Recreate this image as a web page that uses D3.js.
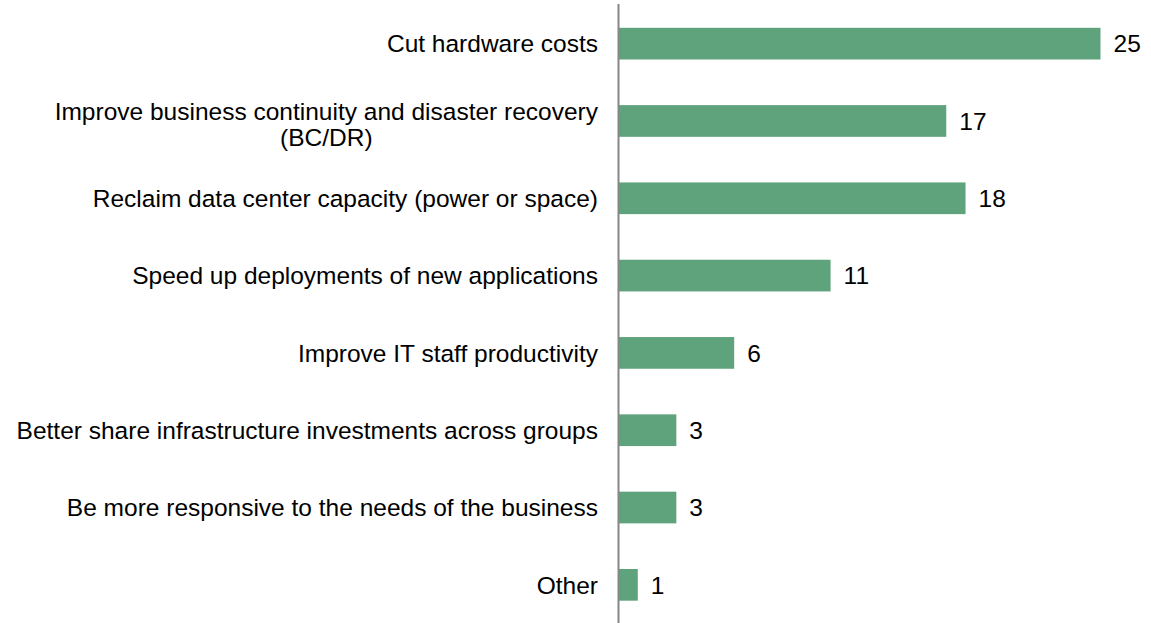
<!DOCTYPE html>
<html><head><meta charset="utf-8">
<script src="https://cdn.jsdelivr.net/npm/d3@7"></script>
<style>
html,body{margin:0;padding:0;background:#fff;}
svg{display:block;}
text{font-family:"Liberation Sans",Arial,sans-serif;fill:#000;}
</style></head>
<body>
<svg id="chart" width="1151" height="623"></svg>
<script>
const categories = [
  ["Cut hardware costs"],
  ["Improve business continuity and disaster recovery", "(BC/DR)"],
  ["Reclaim data center capacity (power or space)"],
  ["Speed up deployments of new applications"],
  ["Improve IT staff productivity"],
  ["Better share infrastructure investments across groups"],
  ["Be more responsive to the needs of the business"],
  ["Other"]
];
const values = [25, 17, 18, 11, 6, 3, 3, 1];

const svg = d3.select("#chart");
const axisX = 618.5;
const fs = 24.5;
const x = d3.scaleLinear().domain([0, 25]).range([axisX, 1100.5]);
const y = d3.scaleBand().domain(d3.range(categories.length)).range([5, 623.5])
  .paddingInner(0.59).paddingOuter(0.295);

svg.append("g").selectAll("rect").data(values).join("rect")
  .attr("x", x(0) + 0.5)
  .attr("y", (d, i) => y(i))
  .attr("width", d => x(d) - x(0) - 0.5)
  .attr("height", y.bandwidth())
  .attr("fill", "#5fa37c");

svg.append("line")
  .attr("x1", axisX).attr("x2", axisX)
  .attr("y1", 4).attr("y2", 623)
  .attr("stroke", "#868686").attr("stroke-width", 2);

svg.append("g").selectAll("text").data(values).join("text")
  .attr("x", d => x(d) + 13)
  .attr("y", (d, i) => y(i) + y.bandwidth() / 2)
  .attr("dy", "0.36em")
  .attr("font-size", fs)
  .text(d => d);

const lab = svg.append("g").selectAll("text").data(categories).join("text")
  .attr("font-size", fs)
  .attr("y", (d, i) => y(i) + y.bandwidth() / 2);
lab.each(function(d, i) {
  const t = d3.select(this);
  const lh = 26;
  const n = d.length;
  const spans = d.map((line, k) => t.append("tspan")
      .attr("y", y(i) + y.bandwidth() / 2 + (k - (n - 1) / 2) * lh + (n > 1 ? 3 : 0))
      .attr("dy", "0.36em")
      .text(line));
  const w = d3.max(spans, s => s.node().getComputedTextLength());
  const right = 598;
  spans.forEach(s => {
    if (n > 1) s.attr("text-anchor", "middle").attr("x", right - w / 2);
    else s.attr("text-anchor", "end").attr("x", right);
  });
});
</script>
</body></html>
